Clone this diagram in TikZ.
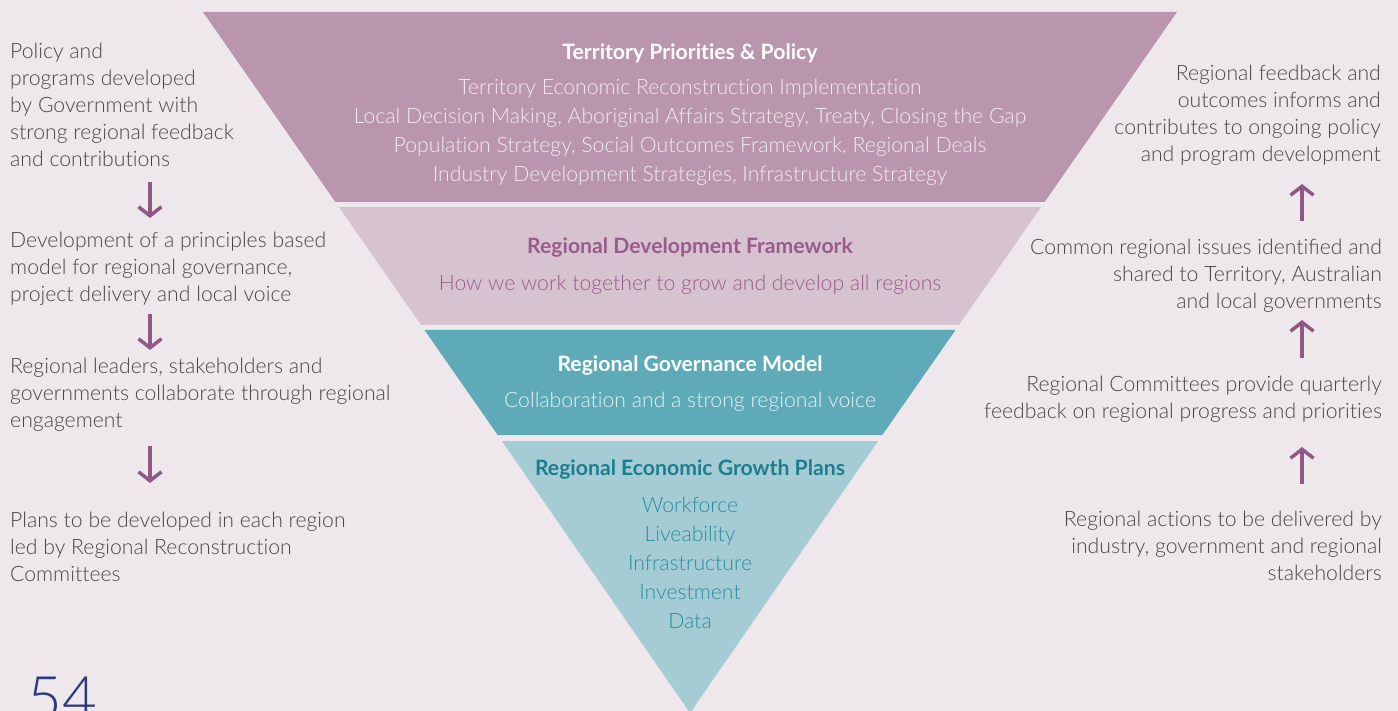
\documentclass[tikz,border=0pt]{standalone}
\usepackage{fontspec}
\setmainfont{Lato}[UprightFont=* Light, BoldFont=* Bold, Ligatures=NoCommon]
\usetikzlibrary{arrows.meta}
\definecolor{bg}{HTML}{EEE8EC}
\definecolor{bandA}{HTML}{B995AE}
\definecolor{bandB}{HTML}{D7C3D0}
\definecolor{bandC}{HTML}{5FAAB8}
\definecolor{bandD}{HTML}{A5CCD5}
\definecolor{purp}{HTML}{8E5A85}
\definecolor{purptxt}{HTML}{9A5B8C}
\definecolor{tealtxt}{HTML}{1B7F8F}
\definecolor{tealitem}{HTML}{2A8E9D}
\definecolor{graytxt}{HTML}{474747}
\definecolor{navy}{HTML}{2E3A7A}
\definecolor{palewhite}{HTML}{F2ECF0}
\definecolor{palecyan}{HTML}{E4F2F5}
\tikzset{
  body/.style={inner sep=0pt, font=\fontsize{21.2}{27}\selectfont, text=graytxt},
  leftblk/.style={body, anchor=north west, align=left},
  rightblk/.style={body, anchor=north east, align=right},
  ctitle/.style={inner sep=0pt, font=\fontsize{21.2}{24}\bfseries\selectfont},
  citems/.style={inner sep=0pt, font=\fontsize{21.2}{29}\selectfont, align=center, anchor=north},
  flowarrow/.style={draw=purp, line width=3.5pt, -{Straight Barb[length=9pt,width=23pt,line width=3.5pt]}},
}
\begin{document}
\begin{tikzpicture}[x=1pt,y=-1pt]
\fill[bg] (0,0) rectangle (1398,711);
\useasboundingbox (0,0) rectangle (1398,711);
% bands
\fill[bandA] (203,12) -- (1177,12) -- (1044.6,202) -- (335.4,202) -- cycle;
\fill[bandB] (338.9,207) -- (1041.1,207) -- (958.9,325) -- (421.1,325) -- cycle;
\fill[bandC] (424.5,330) -- (955.5,330) -- (882.3,435) -- (497.7,435) -- cycle;
\fill[bandD] (501.9,441) -- (878.1,441) -- (690,713) -- cycle;
% band texts
\node[ctitle, text=white] (t1) at (690,53) {Territory Priorities \& Policy};
\node[citems, text=palewhite] (t1i) at (690,79) {Territory Economic Reconstruction Implementation\\Local Decision Making, Aboriginal Affairs Strategy, Treaty, Closing the Gap\\Population Strategy, Social Outcomes Framework, Regional Deals\\Industry Development Strategies, Infrastructure Strategy};
\node[ctitle, text=purptxt] (t2) at (690,248) {Regional Development Framework};
\node[citems, text=purptxt] (t2i) at (690,275) {How we work together to grow and develop all regions};
\node[ctitle, text=white] (t3) at (690,366) {Regional Governance Model};
\node[citems, text=palecyan] (t3i) at (690,392) {Collaboration and a strong regional voice};
\node[ctitle, text=tealtxt] (t4) at (690,470) {Regional Economic Growth Plans};
\node[citems, text=tealitem] (t4i) at (690,497) {Workforce\\Liveability\\Infrastructure\\Investment\\Data};
% left column
\node[leftblk] (l1) at (10,43) {Policy and\\programs developed\\by Government with\\strong regional feedback\\and contributions};
\node[leftblk] (l2) at (10,232) {Development of a principles based\\model for regional governance,\\project delivery and local voice};
\node[leftblk] (l3) at (10,358) {Regional leaders, stakeholders and\\governments collaborate through regional\\engagement};
\node[leftblk] (l4) at (10,512) {Plans to be developed in each region\\led by Regional Reconstruction\\Committees};
\coordinate (la1) at (150,182); \coordinate (lb1) at (150,218);
\coordinate (la2) at (150,314); \coordinate (lb2) at (150,350);
\coordinate (la3) at (150,446); \coordinate (lb3) at (150,483);
\draw[flowarrow] (la1) -- (lb1);
\draw[flowarrow] (la2) -- (lb2);
\draw[flowarrow] (la3) -- (lb3);
% right column
\node[rightblk] (r1) at (1381,65) {Regional feedback and\\outcomes informs and\\contributes to ongoing policy\\and program development};
\node[rightblk] (r2) at (1382,239) {Common regional issues identi\symbol{"FB01}ed and\\shared to Territory, Australian\\and local governments};
\node[rightblk] (r3) at (1382,376) {Regional Committees provide quarterly\\feedback on regional progress and priorities};
\node[rightblk] (r4) at (1382,511) {Regional actions to be delivered by\\industry, government and regional\\stakeholders};
\coordinate (ra1) at (1302,221); \coordinate (rb1) at (1302,184);
\coordinate (ra2) at (1302,358); \coordinate (rb2) at (1302,320);
\coordinate (ra3) at (1302,484); \coordinate (rb3) at (1302,447);
\draw[flowarrow] (ra1) -- (rb1);
\draw[flowarrow] (ra2) -- (rb2);
\draw[flowarrow] (ra3) -- (rb3);
% page number
\node[inner sep=0pt, anchor=base west, text=navy, font=\fontsize{60}{64}\selectfont] (pg) at (27,719) {54};
\end{tikzpicture}
\end{document}
